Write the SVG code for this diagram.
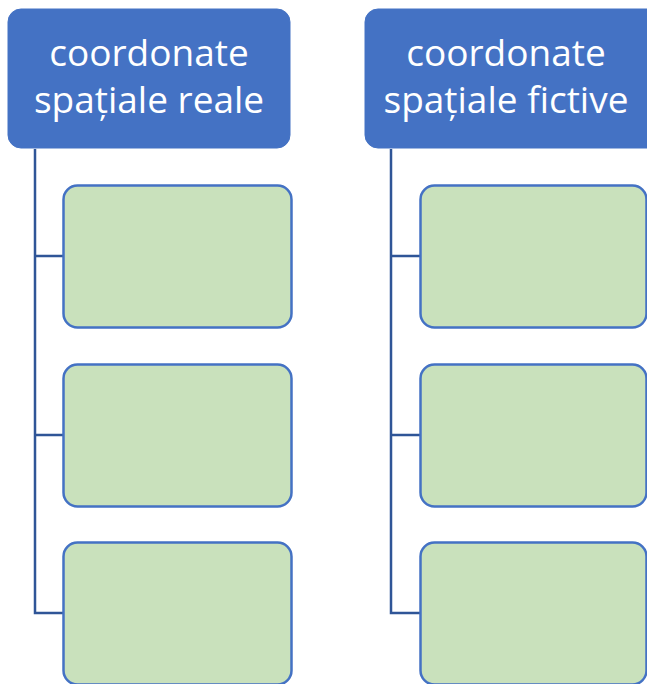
<svg xmlns="http://www.w3.org/2000/svg" width="647" height="684" viewBox="0 0 647 684">
<style>
.hdr{fill:#4472C4;stroke:#4472C4;stroke-width:1}
.child{fill:#C9E1BC;stroke:#4472C4;stroke-width:2.5}
.conn{fill:none;stroke:#2F5597;stroke-width:2.5}
.t{font-family:"Open Sans","Liberation Sans",sans-serif;font-size:37px;fill:#FFFFFF;text-anchor:middle}
</style>
<rect width="647" height="684" fill="#FFFFFF"/>
<g id="connectors">
<path class="conn" d="M35 149 V613 H63 M35 256 H63 M35 435 H63"/>
<path class="conn" d="M391 149 V613 H420 M391 256 H420 M391 435 H420"/>
</g>
<g id="hdr-left">
<rect class="hdr" x="8" y="9" width="282" height="139" rx="13"/>
<text class="t" x="149" y="66">coordonate</text>
<text class="t" x="149" y="113">spațiale reale</text>
</g>
<g id="hdr-right">
<rect class="hdr" x="365" y="9" width="295" height="139" rx="13"/>
<text class="t" x="506" y="66">coordonate</text>
<text class="t" x="506" y="113">spațiale fictive</text>
</g>
<g id="l1"><rect class="child" x="63.5" y="185.5" width="228" height="142" rx="14"/></g>
<g id="l2"><rect class="child" x="63.5" y="364.5" width="228" height="142" rx="14"/></g>
<g id="l3"><rect class="child" x="63.5" y="542.5" width="228" height="142" rx="14"/></g>
<g id="r1"><rect class="child" x="420.5" y="185.5" width="226" height="142" rx="14"/></g>
<g id="r2"><rect class="child" x="420.5" y="364.5" width="226" height="142" rx="14"/></g>
<g id="r3"><rect class="child" x="420.5" y="542.5" width="226" height="142" rx="14"/></g>
</svg>
